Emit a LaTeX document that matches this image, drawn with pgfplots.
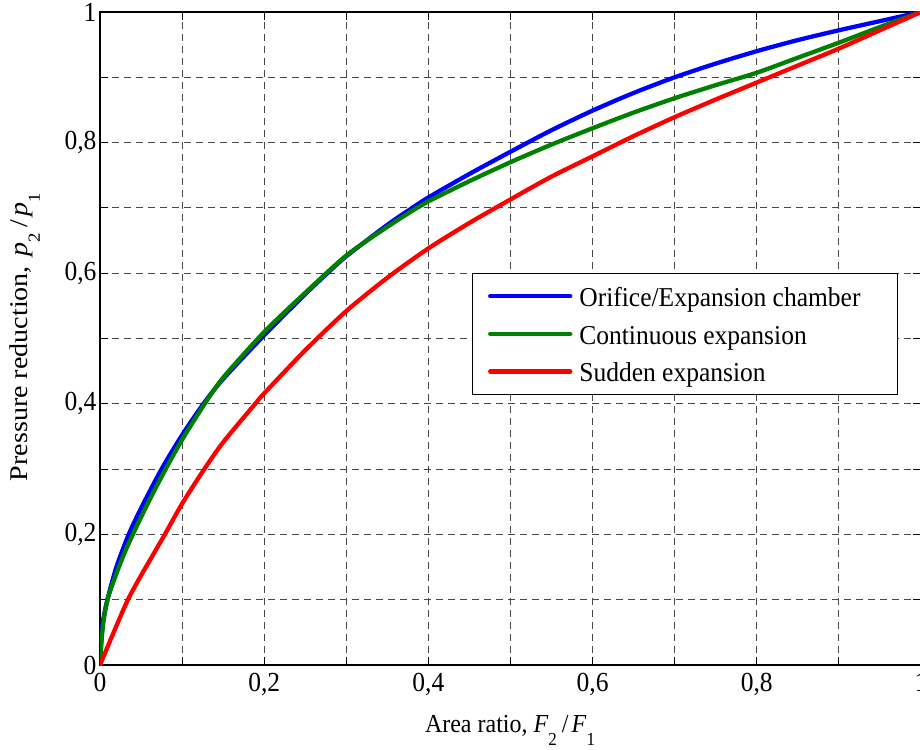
\documentclass[border=0pt]{standalone}
\usepackage{fontspec}
\setmainfont{Liberation Serif}
\usepackage{pgfplots}
\pgfplotsset{compat=1.18}
\definecolor{mblue}{rgb}{0,0,1}
\definecolor{mgreen}{rgb}{0,0.5,0}
\definecolor{mred}{rgb}{1,0,0}
\newcommand{\bigf}{\fontsize{25.5}{30}\selectfont}
\newcommand{\labf}{\fontsize{24}{28}\selectfont}
\newcommand{\subf}[1]{\raisebox{-12pt}{\fontsize{17}{17}\selectfont #1}}
\begin{document}
\begin{tikzpicture}
\begin{axis}[
  at={(100pt,84pt)}, anchor=south west,
  scale only axis, width=821pt, height=653pt,
  xmin=0, xmax=1, ymin=0, ymax=1,
  xtick={0,0.2,0.4,0.6,0.8,1},
  ytick={0,0.2,0.4,0.6,0.8,1},
  minor xtick={0.1,0.3,0.5,0.7,0.9},
  minor ytick={0.1,0.3,0.5,0.7,0.9},
  grid=both,
  major grid style={black!72, dash pattern=on 7pt off 5pt, line width=1.1pt},
  minor grid style={black!72, dash pattern=on 7pt off 5pt, line width=1.1pt},
  tick align=inside,
  major tick length=8pt, minor tick length=8pt,
  every tick/.style={black, line width=1.1pt},
  axis line style={black, line width=1.3pt},
  /pgf/number format/use comma,
  /pgf/number format/assume math mode=true,
  tick label style={font=\bigf, yscale=1.08},
  xticklabel style={yshift=-4pt},
  xlabel={Area ratio, \textit{F}\subf{2}\hspace{5pt}/\hspace{3pt}\textit{F}\subf{1}},
  xlabel style={font=\labf, yscale=1.08, at={(axis description cs:0.4994,-0.1041)}, anchor=base},
  ylabel={Pressure reduction,\hspace{9pt}\textit{p}\subf{2}\hspace{5pt}/\hspace{3pt}\textit{p}\subf{1}},
  ylabel style={font=\bigf, xscale=1.1, at={(axis description cs:-0.0877,0.2757)}, anchor=base west},
  legend style={at={(axis description cs:0.9720,0.6003)}, anchor=north east,
    draw=black, line width=1.1pt, fill=white, font=\bigf,
    nodes={inner sep=0pt, text height=21pt, text depth=2pt, yscale=1.07},
    inner xsep=16pt, inner ysep=10.4pt, row sep=13pt, column sep=7pt},
  legend cell align=left,
  legend image code/.code={\draw[#1] (0pt,0pt) -- (80pt,0pt);},
  every axis plot/.append style={line width=4.3pt, line join=round, line cap=round, smooth, tension=0.45},
]
\addplot[mblue] coordinates {
(0,0)(0.002,0.045)(0.004,0.07)(0.009,0.1)(0.02,0.15)(0.035,0.2)(0.05,0.24)(0.075,0.3)(0.1,0.352)(0.126,0.4)(0.15,0.438)(0.2,0.505)(0.25,0.568)(0.277,0.6)(0.3,0.626)(0.35,0.674)(0.378,0.698)(0.4,0.716)(0.45,0.752)(0.5,0.786)(0.55,0.819)(0.6,0.849)(0.65,0.876)(0.7,0.9)(0.75,0.921)(0.8,0.94)(0.85,0.957)(0.9,0.972)(0.95,0.986)(1,1)
};
\addlegendentry{Orifice/Expansion chamber\hspace*{21pt}}
\addplot[mgreen] coordinates {
(0,0)(0.002,0.04)(0.005,0.073)(0.01,0.104)(0.02,0.14)(0.03,0.172)(0.04,0.2)(0.06,0.252)(0.08,0.3)(0.1,0.345)(0.126,0.397)(0.15,0.44)(0.2,0.51)(0.25,0.57)(0.3,0.627)(0.35,0.671)(0.386,0.7)(0.4,0.71)(0.45,0.741)(0.5,0.77)(0.55,0.797)(0.6,0.822)(0.65,0.846)(0.7,0.868)(0.75,0.888)(0.8,0.907)(0.85,0.93)(0.9,0.953)(0.95,0.977)(1,1)
};
\addlegendentry{Continuous expansion}
\addplot[mred] coordinates {
(0,0)(0.01,0.03)(0.02,0.06)(0.034,0.1)(0.05,0.137)(0.079,0.2)(0.1,0.247)(0.126,0.298)(0.15,0.341)(0.189,0.4)(0.2,0.416)(0.25,0.482)(0.3,0.542)(0.35,0.593)(0.4,0.638)(0.45,0.677)(0.5,0.713)(0.55,0.748)(0.6,0.779)(0.65,0.81)(0.7,0.839)(0.75,0.866)(0.8,0.892)(0.85,0.918)(0.9,0.944)(0.95,0.972)(1,1)
};
\addlegendentry{Sudden expansion}
\end{axis}
\pgfresetboundingbox
\useasboundingbox (0,0) rectangle (920pt,749pt);
\end{tikzpicture}
\end{document}
